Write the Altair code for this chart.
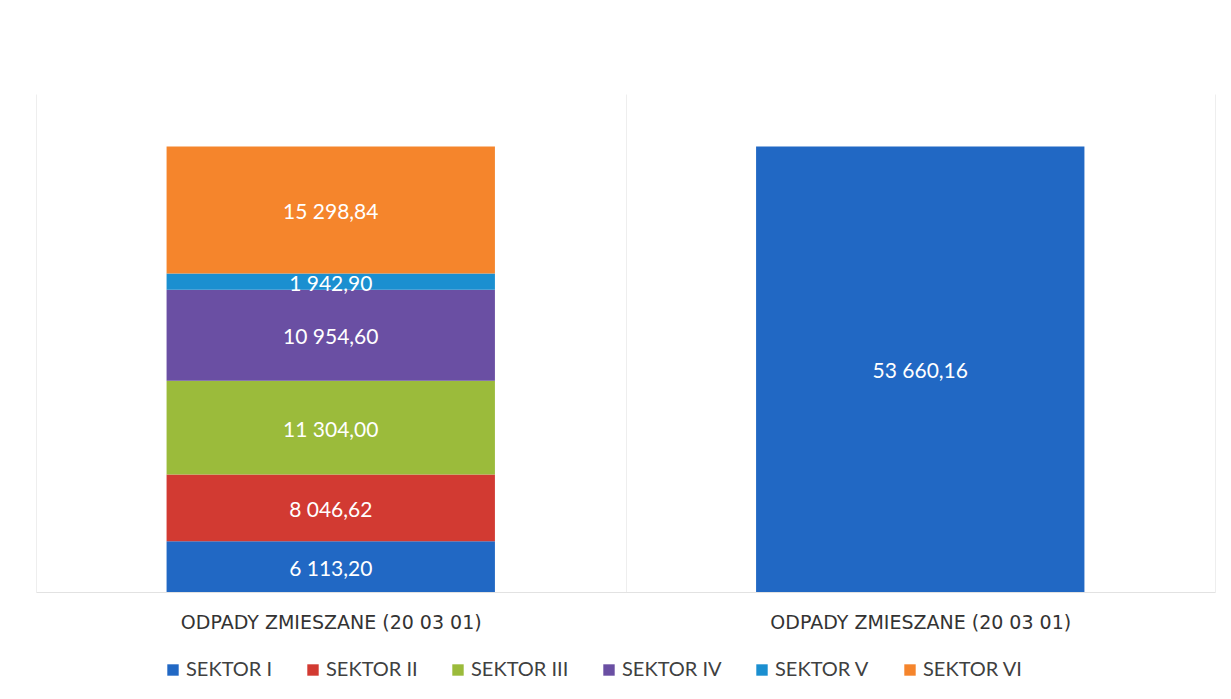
import altair as alt
import pandas as pd

# ---- data ----
panels = ["L", "R"]
panel_labels = ["ODPADY ZMIESZANE (20 03 01)", "ODPADY ZMIESZANE (20 03 01)"]

sectors = ["SEKTOR I", "SEKTOR II", "SEKTOR III", "SEKTOR IV", "SEKTOR V", "SEKTOR VI"]
sector_values = [6113.20, 8046.62, 11304.00, 10954.60, 1942.90, 15298.84]
sector_colors = ["#2168c4", "#d23a32", "#9bbb3b", "#6a4fa3", "#1b8fd0", "#f5852c"]

total_name = "RAZEM"
total_value = 53660.16
total_color = "#2168c4"


def fmt(v):
    return f"{v:,.2f}".replace(",", " ").replace(".", ",")


rows = []
for i, (s, v) in enumerate(zip(sectors, sector_values)):
    rows.append({"panel": panels[0], "sector": s, "value": v, "idx": i, "label": fmt(v)})
rows.append({"panel": panels[1], "sector": total_name, "value": total_value, "idx": 0, "label": fmt(total_value)})
df = pd.DataFrame(rows)

label_map = "{" + ",".join(f"'{p}': '{l}'" for p, l in zip(panels, panel_labels)) + "}"

x_enc = alt.X(
    "panel:N",
    scale=alt.Scale(domain=panels, paddingInner=0, paddingOuter=0),
    axis=alt.Axis(
        title=None,
        labelExpr=f"{label_map}[datum.value]",
        labelAngle=0,
        labelLimit=0,
        labelFont="DejaVu Sans",
        labelFontSize=19,
        labelColor="#333333",
        labelPadding=21,
        ticks=False,
        tickBand="extent",
        grid=True,
        gridColor="#eeeeee",
        gridWidth=1,
        domainColor="#e2e2e2",
        domainWidth=1,
    ),
)

y_scale = alt.Scale(domain=[0, 60000])

base = alt.Chart(df).transform_stack(
    stack="value",
    groupby=["panel"],
    as_=["y0", "y1"],
    sort=[alt.SortField("idx", order="ascending")],
).transform_calculate(mid="(datum.y0 + datum.y1) / 2")

bars = base.mark_bar(width=alt.RelativeBandSize(0.557)).encode(
    x=x_enc,
    y=alt.Y("y0:Q", scale=y_scale, axis=None),
    y2="y1:Q",
    color=alt.Color(
        "sector:N",
        scale=alt.Scale(domain=sectors + [total_name], range=sector_colors + [total_color]),
        legend=alt.Legend(
            values=sectors,
            title=None,
            orient="none",
            legendX=127,
            legendY=566,
            direction="horizontal",
            symbolType="square",
            symbolSize=130,
            symbolStrokeWidth=0,
            labelFont="Lato",
            labelFontSize=20,
            labelColor="#404040",
            labelOffset=3,
            columnPadding=30,
        ),
    ),
)

texts = base.mark_text(color="white", font="Lato", fontSize=21, dy=3).encode(
    x=x_enc,
    y=alt.Y("mid:Q", scale=y_scale, axis=None),
    text="label:N",
)

chart = (
    alt.layer(bars, texts)
    .properties(
        width=1179,
        height=498,
        padding={"left": 28, "top": 86, "right": 5, "bottom": 5},
    )
    .configure_view(stroke=None)
)

chart.save("out.html", embed_options={"renderer": "svg", "actions": False})
